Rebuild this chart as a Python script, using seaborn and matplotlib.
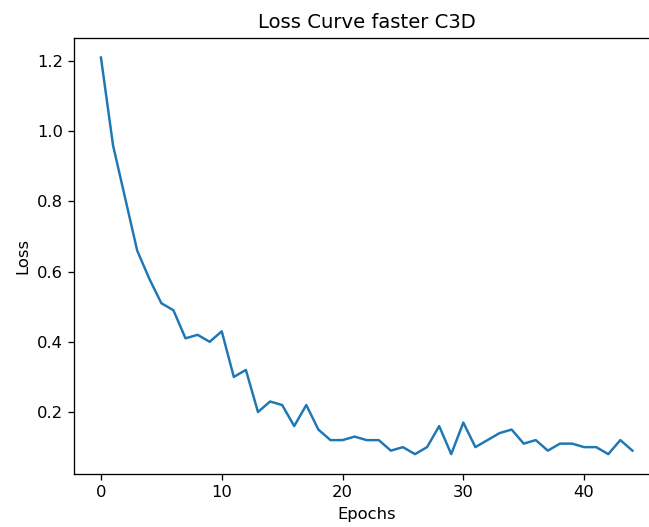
import matplotlib
matplotlib.use("Agg")
import matplotlib.pyplot as plt
import seaborn as sns
import pandas as pd

epochs = list(range(45))
loss = [1.21, 0.96, 0.81, 0.66, 0.58, 0.51, 0.49, 0.41, 0.42, 0.40,
        0.43, 0.30, 0.32, 0.20, 0.23, 0.22, 0.16, 0.22, 0.15, 0.12,
        0.12, 0.13, 0.12, 0.12, 0.09, 0.10, 0.08, 0.10, 0.16, 0.08,
        0.17, 0.10, 0.12, 0.14, 0.15, 0.11, 0.12, 0.09, 0.11, 0.11,
        0.10, 0.10, 0.08, 0.12, 0.09]

df = pd.DataFrame({"Epochs": epochs, "Loss": loss})

DPI = 118
fig, ax = plt.subplots(figsize=(649 / DPI, 527 / DPI), dpi=DPI)
# right spine sits just past the image edge, as in the reference crop
fig.subplots_adjust(left=0.1146, right=1.0154, top=0.9285, bottom=0.1006)
sns.lineplot(data=df, x="Epochs", y="Loss", ax=ax, color="#1f77b4")
ax.set_title("Loss Curve faster C3D")
ax.set_xlabel("Epochs")
ax.set_ylabel("Loss")
fig.savefig("out.png", dpi=DPI)
